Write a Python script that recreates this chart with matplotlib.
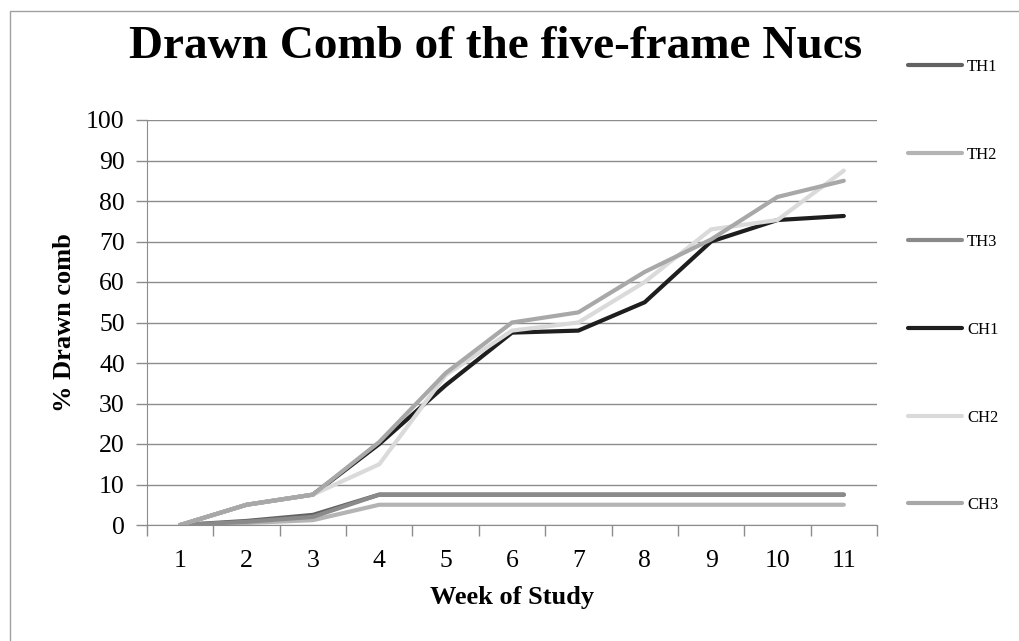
import matplotlib.pyplot as plt
from matplotlib.patches import Rectangle
import numpy as np

plt.rcParams['font.family'] = ['Liberation Serif', 'DejaVu Serif']

weeks = [1, 2, 3, 4, 5, 6, 7, 8, 9, 10, 11]
week_labels = [str(w) for w in weeks]

th1 = [0, 1, 2.5, 7.5, 7.5, 7.5, 7.5, 7.5, 7.5, 7.5, 7.5]
th2 = [0, 0.5, 1.2, 5, 5, 5, 5, 5, 5, 5, 5]
th3 = [0, 0.8, 2, 7.5, 7.5, 7.5, 7.5, 7.5, 7.5, 7.5, 7.5]
ch1 = [0, 5, 7.5, 20, 34.5, 47.5, 48, 55, 70, 75.3, 76.3]
ch2 = [0, 5, 7.5, 15, 37, 48, 50, 60, 73, 75.3, 87.5]
ch3 = [0, 5, 7.5, 20.5, 37.5, 50, 52.5, 62.5, 70.5, 81, 85]

series = [
    ("TH1", th1, "#626262"),
    ("TH2", th2, "#b4b4b4"),
    ("TH3", th3, "#8a8a8a"),
    ("CH1", ch1, "#1e1e1e"),
    ("CH2", ch2, "#dadada"),
    ("CH3", ch3, "#a8a8a8"),
]

fig = plt.figure(figsize=(10.19, 6.41), dpi=100)
ax = fig.add_axes([147 / 1019, 1 - 525 / 641, (877 - 147) / 1019, (525 - 120) / 641])

x = np.arange(len(weeks))
for name, vals, col in series:
    ax.plot(x, vals, color=col, lw=3, label=name, solid_capstyle='round', solid_joinstyle='miter')

ax.set_xlim(-0.5, len(weeks) - 0.5)
ax.set_ylim(0, 100)
ax.set_yticks(range(0, 101, 10))
ax.set_xticks(x)
ax.set_xticklabels(week_labels)
ax.set_xticks(np.arange(-0.5, len(weeks)), minor=True)
ax.tick_params(axis='x', which='major', length=0, labelsize=18.5, pad=18)
ax.tick_params(axis='x', which='minor', length=8, color='#8c8c8c', width=1)
ax.tick_params(axis='y', length=8, color='#8c8c8c', width=1, labelsize=18.5, pad=8)
ax.grid(axis='y', color='#8c8c8c', lw=1)
ax.set_axisbelow(True)
for s in ['top', 'right']:
    ax.spines[s].set_visible(False)
for s in ['left', 'bottom']:
    ax.spines[s].set_color('#8c8c8c')

ax.set_xlabel("Week of Study", fontsize=19, fontweight='bold', labelpad=10)
ax.set_ylabel("% Drawn comb", fontsize=19, fontweight='bold', labelpad=7)
fig.text(496 / 1019, 1 - 47 / 641, "Drawn Comb of the five-frame Nucs", fontsize=34,
         fontweight='bold', ha='center', va='center')

ax.legend(loc='upper left', bbox_to_anchor=(908 / 1019, 1 - 59 / 641),
          bbox_transform=fig.transFigure, frameon=False, fontsize=12,
          handlelength=3.25, handletextpad=0.3, labelspacing=4.3, borderpad=0,
          borderaxespad=0)

fig.patches.append(Rectangle((10 / 1019, -0.01), 1.02, 1 - 11 / 641 + 0.01,
                             transform=fig.transFigure, fill=False,
                             edgecolor='#a0a0a0', lw=1))

plt.savefig("out.png", dpi=100)
